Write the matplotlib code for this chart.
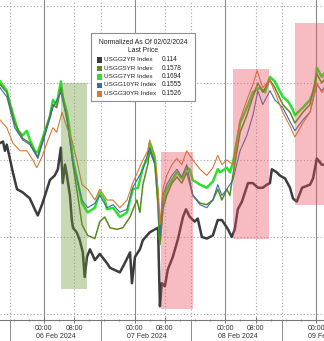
import numpy as np
import matplotlib
matplotlib.use("Agg")
import matplotlib.pyplot as plt
from matplotlib.patches import Rectangle
from matplotlib.transforms import blended_transform_factory

plt.rcParams['font.family'] = ['Liberation Sans', 'DejaVu Sans']

# hours from 06 Feb 2024 00:00, values = change since 02/02/2024 (bp)
t_2y = [-11.6, -10.8, -10.3, -9.8, -8.2, -7.1, -5.6, -3.7, -2.4, -1.6, -0.5, 0.3, 1.6, 2.9,
        3.7, 4.5, 5.0, 5.6, 6.1, 6.9, 7.4, 7.7, 8.7, 9.5, 10.3, 10.8, 11.4, 12.2, 13.5,
        14.8, 16.7, 17.5, 20.1, 21.4, 22.8, 23.3, 24.1, 25.4, 26.2, 28.0, 29.4, 30.2,
        30.7, 31.2, 32.0, 32.8, 34.1, 35.4, 36.8, 37.6, 38.6, 39.9, 40.7, 41.8, 43.1,
        44.7, 46.0, 47.1, 47.9, 48.7, 49.7, 50.5, 51.3, 52.4, 53.2, 54.0, 55.3, 56.6,
        57.9, 59.0, 59.8, 60.3, 61.6, 62.4, 63.8, 65.1, 65.9, 66.9, 68.3, 70.4, 71.2,
        72.2, 73.5, 74.1]
v_2y = [11.1, 11.2, 10.6, 11.0, 9.2, 8.1, 7.9, 7.5, 6.8, 6.4, 7.1, 7.7, 8.7, 9.0,
        9.4, 10.8, 8.5, 9.7, 9.0, 7.7, 6.1, 5.6, 5.3, 4.8, 4.0, 2.4, 3.7, 4.2, 3.5,
        3.9, 3.3, 3.0, 2.7, 3.3, 4.0, 2.0, 3.7, 4.2, 4.8, 5.3, 5.5, 5.6,
        0.5, 2.0, 1.8, 2.9, 3.7, 4.8, 6.3, 6.8, 6.3, 6.0, 6.2, 5.0, 4.9,
        5.1, 6.1, 6.1, 5.8, 5.5, 5.0, 5.5, 6.8, 7.3, 7.9, 8.5, 8.5, 8.2,
        8.2, 8.4, 8.5, 9.4, 9.2, 9.0, 8.8, 8.2, 7.5, 7.3, 8.2, 8.4, 8.8,
        10.1, 9.7, 9.7]

t_7y = [-11.6, -9.8, -9.0, -7.7, -6.9, -5.6, -4.5, -3.7, -2.4, -1.6, -0.5, 0.3, 1.6, 2.4,
        3.4, 4.5, 5.0, 6.1, 6.9, 7.7, 8.7, 10.1, 11.6, 13.5, 14.8, 16.1, 16.7, 18.3,
        20.1, 22.0, 23.5, 24.9, 26.2, 27.5, 28.0, 29.4, 30.2, 30.7, 31.5, 32.5, 33.9,
        35.2, 36.5, 37.8, 38.6, 39.4, 41.3, 43.1, 44.7, 46.0, 46.6, 48.4, 49.2, 50.0,
        51.9, 53.7, 55.3, 57.1, 58.5, 59.8, 61.1, 61.9, 63.2, 64.6, 65.6, 66.4, 67.2,
        68.5, 70.4, 71.7, 72.2, 73.5, 74.1]
v_7y = [15.1, 14.5, 13.7, 12.6, 11.9, 11.6, 11.9, 11.3, 10.6, 10.5, 11.3, 11.9, 12.8, 13.9,
        13.6, 15.1, 14.1, 13.1, 11.8, 10.0, 8.9, 7.2, 6.6, 6.9, 7.9, 7.4, 6.8, 6.9,
        6.3, 6.6, 8.1, 8.2, 9.5, 10.2, 11.1, 10.0, 7.4, 4.8, 7.2, 8.1, 8.7,
        9.2, 8.8, 9.5, 9.4, 8.7, 8.4, 8.2, 8.6, 9.4, 9.2, 9.5, 9.2, 9.8,
        12.4, 13.4, 14.4, 14.7, 14.4, 15.4, 15.1, 14.7, 14.1, 13.8, 13.4, 12.9, 13.1,
        13.4, 13.9, 14.7, 16.0, 15.4, 15.6]

t_5y = [-11.6, -9.8, -7.7, -5.6, -3.7, -1.6, 0.3, 2.4, 3.4, 4.5, 6.1, 7.7, 8.7, 10.1,
        11.6, 13.5, 14.8, 16.1, 17.5, 19.3, 20.9, 22.8, 24.6, 25.4, 26.2, 27.5, 28.0,
        29.4, 30.2, 30.7, 31.5, 32.5, 33.9, 35.2, 36.5, 37.8, 39.4, 41.3, 43.1, 44.7,
        46.0, 47.1, 48.4, 49.2, 50.0, 51.9, 53.7, 55.3, 56.6, 57.9, 59.8, 61.1, 63.2,
        65.1, 66.4, 68.5, 70.4, 72.2, 73.5, 74.1]
v_5y = [14.9, 14.4, 12.4, 11.4, 11.1, 10.2, 11.8, 13.6, 13.4, 14.7, 12.8, 9.7, 8.1, 5.8,
        5.1, 4.9, 6.0, 6.3, 5.6, 5.5, 5.6, 6.3, 7.4, 6.6, 8.4, 9.7, 10.6,
        9.7, 7.1, 4.5, 6.8, 7.7, 8.5, 8.9, 8.5, 9.2, 7.7, 7.2, 7.1, 7.4,
        8.1, 7.4, 8.1, 7.7, 9.0, 11.8, 12.9, 14.1, 15.0, 14.4, 15.2, 14.7, 13.6,
        13.1, 12.4, 13.1, 13.6, 15.6, 15.0, 15.2]

t_10y = [-11.6, -9.8, -7.7, -5.6, -3.7, -1.6, 0.3, 2.4, 4.5, 6.1, 7.7, 8.7, 10.1, 11.6,
         13.5, 14.8, 16.7, 18.3, 20.1, 22.0, 23.5, 26.2, 28.0, 29.4, 30.2, 30.7, 31.5,
         32.5, 33.9, 35.2, 36.5, 37.8, 39.4, 41.3, 43.1, 44.7, 46.0, 47.1, 48.4, 50.0,
         51.9, 53.7, 55.3, 56.6, 57.9, 59.8, 61.1, 63.2, 65.1, 66.4, 68.5, 70.4, 72.2,
         73.5, 74.1]
v_10y = [14.7, 14.1, 12.1, 11.3, 11.0, 10.1, 11.6, 13.4, 14.4, 12.6, 9.8, 8.8, 7.4, 6.9,
         7.2, 7.7, 6.9, 7.1, 6.6, 6.8, 8.2, 9.4, 10.8, 9.8, 7.7, 5.1, 7.7,
         8.4, 9.0, 9.4, 8.9, 9.7, 7.7, 7.1, 6.9, 7.4, 8.4, 7.7, 8.1, 8.7,
         10.6, 11.6, 12.9, 14.5, 13.6, 14.5, 13.9, 13.4, 12.5, 11.9, 12.6, 13.1, 14.9,
         14.5, 14.7]

t_30y = [-11.6, -9.8, -8.2, -6.3, -4.5, -2.9, -1.9, -0.5, 0.8, 2.4, 3.4, 4.8, 6.1, 7.4,
         8.7, 10.1, 11.6, 13.5, 14.8, 16.7, 18.3, 20.1, 22.0, 23.5, 26.2, 27.5, 28.0,
         29.4, 30.2, 30.7, 31.5, 32.5, 33.9, 35.2, 36.5, 37.8, 39.4, 41.3, 43.1, 44.7,
         46.0, 47.1, 48.4, 50.0, 51.9, 53.7, 55.3, 56.4, 57.9, 59.8, 61.1, 63.2, 65.1,
         66.4, 68.5, 70.4, 72.2, 73.5, 74.1]
v_30y = [12.6, 12.1, 11.1, 10.6, 10.6, 10.0, 9.5, 10.2, 11.1, 12.1, 11.8, 13.1, 12.1, 11.3,
         10.0, 8.4, 8.1, 7.4, 8.1, 7.4, 7.4, 6.9, 7.4, 8.5, 10.0, 10.6, 11.3,
         10.3, 8.1, 5.8, 8.1, 9.0, 9.7, 10.1, 9.7, 10.6, 10.0, 9.4, 9.0, 9.5,
         10.3, 9.7, 10.0, 9.7, 12.6, 13.9, 14.9, 15.8, 14.7, 15.2, 14.4, 13.1, 12.2,
         11.5, 12.4, 13.1, 15.0, 14.4, 14.5]

names = ['USGG2YR Index', 'USGG5YR Index', 'USGG7YR Index', 'USGG10YR Index', 'USGG30YR Index']
last_prices = ['0.114', '0.1578', '0.1694', '0.1555', '0.1526']
colors = ['#3c3c3c', '#5a8a1e', '#2ee02e', '#3a6aa8', '#d9782e']

# shaded boxes: (t0, t1, v0, v1)
green_box = (4.5, 11.4, 1.6, 15.0)
pink_boxes = [(31.0, 39.4, 0.3, 10.5), (50.0, 59.5, 4.9, 15.9), (66.4, 80.0, 7.1, 18.9)]

days = ['06 Feb 2024', '07 Feb 2024', '08 Feb 2024', '09 Feb 2024']
day_start = [0, 24, 48, 72]
XMIN, XMAX = -11.6, 74.1
YMIN, YMAX = -0.39, 20.39

W, H = 324, 341
fig = plt.figure(figsize=(W / 100, H / 100), dpi=100)
ax = fig.add_axes([0, 21 / H, 1, 320 / H])
ax.set_autoscale_on(False)
ax.set_xlim(XMIN, XMAX)
ax.set_ylim(YMIN, YMAX)

# grid
for v in [0, 5, 10, 15, 20]:
    ax.axhline(v, color='#a8a8a8', lw=0.8, ls=(0, (1, 2)), zorder=1)
for d in [-24] + day_start:
    ax.axvline(d, color='#8a8a8a', lw=0.8, zorder=1)
    ax.axvline(d + 8, color='#a8a8a8', lw=0.8, ls=(0, (1, 2)), zorder=1)
    ax.axvline(d + 15, color='#a8a8a8', lw=0.8, ls=(0, (1, 2)), zorder=1)

ax.plot(t_2y, v_2y, color=colors[0], lw=1.8, zorder=3)
ax.plot(t_7y, v_7y, color=colors[2], lw=1.8, zorder=3)
ax.plot(t_5y, v_5y, color=colors[1], lw=1.1, zorder=3)
ax.plot(t_10y, v_10y, color=colors[3], lw=0.8, zorder=3)
ax.plot(t_30y, v_30y, color=colors[4], lw=0.8, zorder=3)

g = green_box
ax.add_patch(Rectangle((g[0], g[2]), g[1] - g[0], g[3] - g[2], facecolor='#6f9a3a',
                       alpha=0.38, lw=0, zorder=4))
for b in pink_boxes:
    ax.add_patch(Rectangle((b[0], b[2]), b[1] - b[0], b[3] - b[2], facecolor='#e85060',
                           alpha=0.38, lw=0, zorder=4))

for s in ['left', 'right', 'top']:
    ax.spines[s].set_visible(False)
ax.spines['bottom'].set_color('#777777')
ax.spines['bottom'].set_linewidth(0.8)
ax.set_yticks([])
ticks = []
labels = []
for d in day_start:
    ticks += [d, d + 8]
    labels += ['00:00', '08:00']
ax.set_xticks(ticks)
ax.set_xticklabels(labels, fontsize=5.0, color='#333333')
ax.set_xticks([d + h for d in [-24] + day_start for h in (4, 12, 16, 20)], minor=True)
ax.tick_params(axis='x', which='major', direction='inout', length=4, width=0.7,
               color='#777777', pad=1.5)
ax.tick_params(axis='x', which='minor', direction='inout', length=2, width=0.6,
               color='#777777')

tr = blended_transform_factory(ax.transData, fig.transFigure)
for d, lab in zip(day_start, days):
    ax.text(d + 3.2, 4.5 / H, lab, transform=tr, fontsize=5.0, color='#333333',
            ha='center', va='center', clip_on=False)
for d in [-24] + day_start:
    ax.plot([d + 15, d + 15], [0, 20 / H], transform=tr, color='#8a8a8a', lw=0.7,
            clip_on=False)

# make sure nothing changed the view
ax.set_xlim(XMIN, XMAX)
ax.set_ylim(YMIN, YMAX)


def px(x, y):
    return x / W, 1 - y / H


# legend box
x0, y0 = px(91, 101)
x1, y1 = px(195, 33)
fig.patches.append(Rectangle((x0, y0), x1 - x0, y1 - y0, transform=fig.transFigure,
                             facecolor='white', edgecolor='#8c8c8c', lw=0.8, zorder=10))
fig.text(*px(143, 42.5), 'Normalized As Of 02/02/2024', fontsize=4.9, color='#222222',
         ha='center', va='center', zorder=11)
fig.text(*px(143, 51), 'Last Price', fontsize=4.9, color='#222222',
         ha='center', va='center', zorder=11)
for i, (n, p, c) in enumerate(zip(names, last_prices, colors)):
    yy = 59.5 + i * 8.5
    sx, sy = px(96.5, yy + 3)
    fig.patches.append(Rectangle((sx, sy), 5.5 / W, 5.5 / H, transform=fig.transFigure,
                                 facecolor=c, edgecolor='none', zorder=11))
    fig.text(*px(104, yy), n, fontsize=4.6, color='#222222', ha='left', va='center',
             zorder=11)
    fig.text(*px(162, yy), p, fontsize=4.7, color='#222222', ha='left', va='center',
             zorder=11)

fig.savefig('out.png', dpi=100)
